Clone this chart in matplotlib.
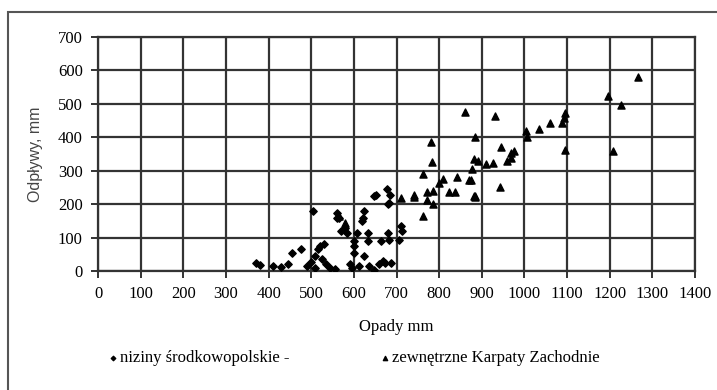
import matplotlib.pyplot as plt
from matplotlib.patches import Rectangle

# niziny środkowopolskie (diamonds)
niz_opady = [370, 380, 410, 430, 445, 455, 475, 490, 500, 505, 510, 510, 515, 520,
             525, 530, 535, 545, 555, 560, 560, 565, 570, 580, 585, 590, 595, 600,
             600, 600, 608, 612, 620, 622, 624, 624, 634, 634, 636, 648, 648, 653,
             660, 664, 668, 672, 678, 680, 680, 682, 682, 684, 688, 706, 710, 712]
niz_odplywy = [25, 18, 15, 12, 20, 55, 65, 15, 28, 180, 10, 45, 65, 75,
               35, 80, 20, 10, 5, 175, 160, 160, 120, 130, 115, 20, 10, 90,
               75, 55, 115, 15, 150, 160, 180, 45, 115, 90, 15, 225, 3, 227,
               20, 90, 30, 25, 245, 200, 115, 92, 202, 227, 25, 92, 135, 120]

# zewnętrzne Karpaty Zachodnie (triangles)
karp_opady = [565, 580, 710, 740, 740, 762, 762, 772, 772, 783, 786, 786, 780, 800,
              810, 822, 838, 842, 860, 870, 874, 877, 882, 882, 883, 884, 885, 890,
              909, 927, 930, 943, 945, 960, 968, 968, 975, 1004, 1005, 1035, 1061,
              1087, 1092, 1095, 1094, 1197, 1208, 1226, 1266]
karp_odplywy = [165, 145, 218, 228, 220, 165, 290, 235, 212, 327, 238, 200, 385, 264,
                274, 235, 235, 280, 475, 272, 272, 304, 334, 224, 222, 225, 400, 330,
                320, 324, 465, 252, 370, 330, 337, 352, 360, 420, 400, 426, 444,
                442, 459, 474, 363, 525, 358, 498, 580]

x_ticks = list(range(0, 1401, 100))
y_ticks = list(range(0, 701, 100))

serif = 'Liberation Serif'
fsize = 12

fig = plt.figure(figsize=(7.17, 3.9), dpi=100)
ax = fig.add_axes([0.1367, 0.3051, 0.8326, 0.6])

# frame around the whole chart (cut off on right/bottom in the source)
fig.patches.append(Rectangle((8 / 717, -0.1), 1.2, 1 - 12 / 390 + 0.1,
                             transform=fig.transFigure, fill=False,
                             edgecolor='#555555', linewidth=1.5))

d = ax.scatter(niz_opady, niz_odplywy, marker='D', s=14, color='black', zorder=3)
t = ax.scatter(karp_opady, karp_odplywy, marker='^', s=26, color='black', zorder=3)

ax.set_xlim(0, 1400)
ax.set_ylim(0, 700)
ax.set_xticks(x_ticks)
ax.set_yticks(y_ticks)
ax.grid(True, color='#333333', linewidth=1.6)
ax.set_axisbelow(True)
for s in ax.spines.values():
    s.set_color('#333333')
    s.set_linewidth(1.6)
ax.tick_params(direction='out', length=5, width=1.4, color='#333333', pad=6)

for lab in ax.get_xticklabels() + ax.get_yticklabels():
    lab.set_fontfamily(serif)
    lab.set_fontsize(fsize)

ax.set_xlabel('Opady mm', fontfamily=serif, fontsize=fsize, labelpad=12)
ax.set_ylabel('Odpływy, mm', fontfamily='Liberation Sans', fontsize=11.5,
              color='#444444', labelpad=11)

fig.legend([d], ['niziny środkowopolskie -'], loc='center left',
           bbox_to_anchor=(0.139, 0.082), frameon=False,
           prop={'family': serif, 'size': fsize}, handletextpad=0.1,
           handlelength=0.6, markerscale=0.6, borderpad=0)
fig.legend([t], ['zewnętrzne Karpaty Zachodnie'], loc='center left',
           bbox_to_anchor=(0.519, 0.082), frameon=False,
           prop={'family': serif, 'size': fsize}, handletextpad=0.1,
           handlelength=0.6, markerscale=0.6, borderpad=0)

fig.savefig('out.png', dpi=100)
